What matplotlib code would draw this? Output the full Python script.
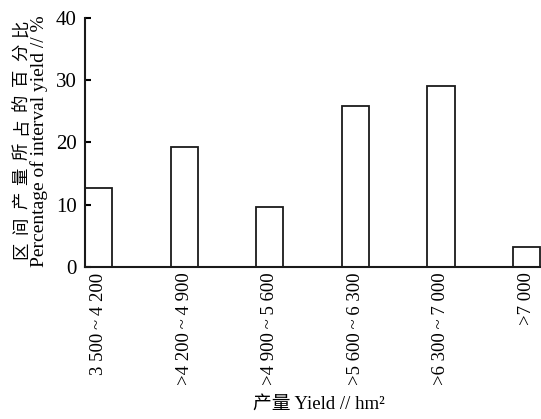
import numpy as np
import matplotlib
matplotlib.use('Agg')
from matplotlib import pyplot as plt

# Data
categories = ['3 500\u2009~\u20094 200', '>4 200\u2009~\u20094 900', '>4 900\u2009~\u20095 600',
              '>5 600\u2009~\u20096 300', '>6 300\u2009~\u20097 000', '>7 000']
percent = [12.7, 19.3, 9.6, 25.8, 29.0, 3.2]
yticks = [0, 10, 20, 30, 40]

serif = ['Liberation Serif', 'Noto Sans CJK SC']
cjk = ['Noto Sans CJK SC', 'Liberation Serif']

fig = plt.figure(figsize=(5.41, 4.19), dpi=100)
ax = fig.add_axes([0.157, 0.363, 0.843, 0.594])

x = np.arange(len(categories))
bw = 0.32
ax.bar(x, percent, width=bw, align='edge', facecolor='white',
       edgecolor='#1a1a1a', linewidth=1.3)

ax.set_xlim(0, 5.33)
ax.set_ylim(0, 40)
ax.set_yticks(yticks)
ax.set_yticklabels([str(t) for t in yticks], family=serif, fontsize=15)
ax.set_xticks(x + bw / 2)
ax.set_xticklabels(categories, rotation=90, family=serif, fontsize=13.5)
ax.tick_params(axis='x', length=0, pad=4)
ax.tick_params(axis='y', direction='in', length=4, width=1.5, pad=6)

for s in ['top', 'right']:
    ax.spines[s].set_visible(False)
for s in ['left', 'bottom']:
    ax.spines[s].set_linewidth(1.5)
    ax.spines[s].set_color('#1a1a1a')

# y label: chinese line is widely spaced in the original, so place char by char
# (rotated text reads bottom to top)
zh = '区间产量所占的百分比'
top, bot = 1 - 28 / 419, 1 - 250 / 419
for i, ch in enumerate(zh):
    yy = bot + (top - bot) * i / (len(zh) - 1)
    fig.text(0.039, yy, ch, rotation=90, ha='center', va='center',
             family=cjk, fontsize=12.5)
fig.text(0.073, 0.662, 'Percentage of interval yield // %', rotation=90,
         ha='center', va='center', family=serif, fontsize=14)
fig.text(0.59, 0.035, '产量 Yield // hm²', ha='center', va='center',
         family=serif, fontsize=13.5)

plt.savefig('out.png', dpi=100)
